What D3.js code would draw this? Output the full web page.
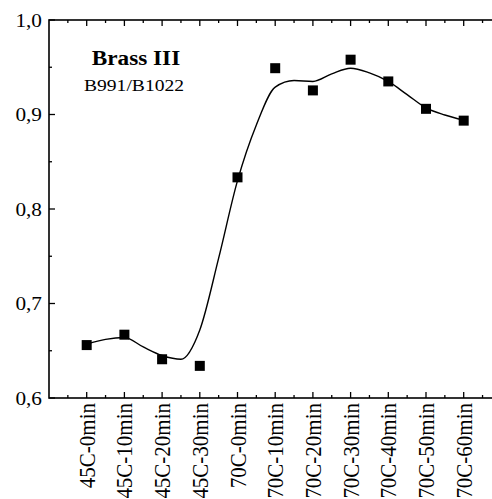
<!DOCTYPE html>
<html><head><meta charset="utf-8">
<script src="https://cdn.jsdelivr.net/npm/d3@7"></script>
<style>html,body{margin:0;padding:0;background:#fff;overflow:hidden}</style>
</head><body>
<script>
const categories = ["45C-0min","45C-10min","45C-20min","45C-30min","70C-0min","70C-10min","70C-20min","70C-30min","70C-40min","70C-50min","70C-60min"];
const values = [0.656, 0.667, 0.641, 0.634, 0.8335, 0.949, 0.9255, 0.958, 0.935, 0.906, 0.8935];
// smooth fitted curve at category positions (index units)
const curvePos  = [0, 0.5, 1, 1.5, 2, 2.5, 3, 3.5, 4, 4.5, 5, 5.5, 6, 6.5, 7, 7.5, 8, 8.5, 9, 9.5, 10];
const curveVals = [0.657, 0.662, 0.664, 0.654, 0.645, 0.641, 0.672, 0.748, 0.83, 0.889, 0.929, 0.936, 0.935, 0.943, 0.949, 0.944, 0.935, 0.921, 0.907, 0.8995, 0.894];
const yTicks = [0.6, 0.7, 0.8, 0.9, 1.0];
const yTickLabels = ["0,6", "0,7", "0,8", "0,9", "1,0"];
const yMinorTicks = [0.65, 0.75, 0.85, 0.95];
const title = "Brass III";
const subtitle = "B991/B1022";

(function () {
const W = 492, H = 499;
const mLeft = 49, mTop = 20, mBottom = 398;
const step = 37.7;
const svg = d3.select("body").append("svg").attr("width", W).attr("height", H);

const x = d3.scaleLinear().domain([-1, 11]).range([mLeft, mLeft + 12 * step]);
const y = d3.scaleLinear().domain([0.6, 1.0]).range([mBottom, mTop]);
const font = "'Liberation Serif'";

// frame
svg.append("rect").attr("x", x(-1)).attr("y", y(1.0)).attr("width", x(11) - x(-1)).attr("height", y(0.6) - y(1.0))
  .attr("fill", "none").attr("stroke", "#000").attr("stroke-width", 1.6);

// x ticks (bottom up, top down)
const majorX = d3.range(0, 11);
const minorX = d3.range(-0.5, 11, 1);
const tg = svg.append("g").attr("stroke", "#000").attr("stroke-width", 1.3);
majorX.forEach(i => {
  tg.append("line").attr("x1", x(i)).attr("x2", x(i)).attr("y1", mBottom).attr("y2", mBottom - 6);
  tg.append("line").attr("x1", x(i)).attr("x2", x(i)).attr("y1", mTop).attr("y2", mTop + 6);
});
minorX.forEach(i => {
  tg.append("line").attr("x1", x(i)).attr("x2", x(i)).attr("y1", mBottom).attr("y2", mBottom - 3);
  tg.append("line").attr("x1", x(i)).attr("x2", x(i)).attr("y1", mTop).attr("y2", mTop + 3);
});
yTicks.forEach(v => tg.append("line").attr("x1", mLeft).attr("x2", mLeft + 6).attr("y1", y(v)).attr("y2", y(v)));
yMinorTicks.forEach(v => tg.append("line").attr("x1", mLeft).attr("x2", mLeft + 3).attr("y1", y(v)).attr("y2", y(v)));

// y labels
yTicks.forEach((v, i) => {
  svg.append("text").attr("transform", `translate(42,${y(v)}) scale(1.12,1)`)
    .attr("text-anchor", "end").attr("dy", "0.35em")
    .attr("font-family", font).attr("font-size", 19).text(yTickLabels[i]);
});

// x category labels
categories.forEach((c, i) => {
  svg.append("text").attr("transform", `translate(${x(i)},403) scale(1.1,1) rotate(-90)`)
    .attr("text-anchor", "end").attr("dy", "0.35em")
    .attr("font-family", font).attr("font-size", 21).text(c);
});

// curve
const line = d3.line().x(d => x(d[0])).y(d => y(d[1])).curve(d3.curveMonotoneX);
svg.append("path").datum(curvePos.map((p, i) => [p, curveVals[i]]))
  .attr("d", line).attr("fill", "none").attr("stroke", "#000").attr("stroke-width", 1.4);

// points
svg.selectAll("rect.pt").data(values).enter().append("rect").attr("class", "pt")
  .attr("x", (d, i) => x(i) - 5).attr("y", d => y(d) - 5).attr("width", 10).attr("height", 10).attr("fill", "#000");

// annotation
svg.append("text").attr("transform", "translate(136,65) scale(1.08,1)").attr("text-anchor", "middle")
  .attr("font-family", font).attr("font-weight", "bold").attr("font-size", 21.5).text(title);
svg.append("text").attr("transform", "translate(134,91) scale(1.12,1)").attr("text-anchor", "middle")
  .attr("font-family", font).attr("font-size", 17.5).text(subtitle);
})();
</script>
</body></html>
